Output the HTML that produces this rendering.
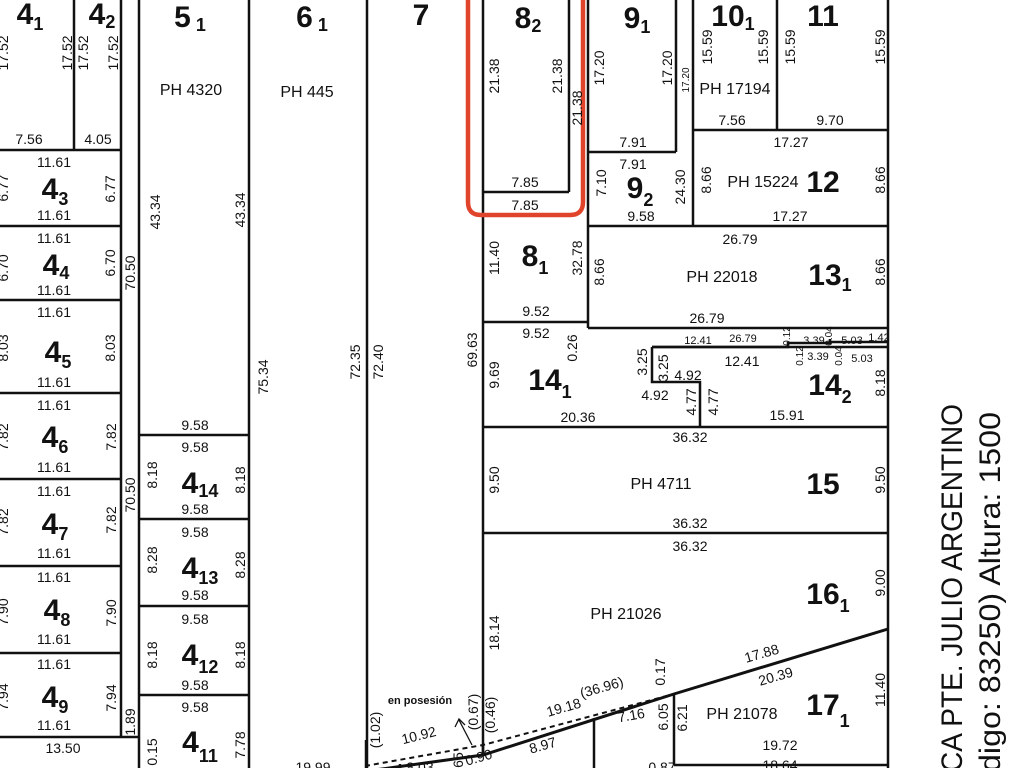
<!DOCTYPE html>
<html><head><meta charset="utf-8"><style>
html,body{margin:0;padding:0;background:#fff;width:1024px;height:768px;overflow:hidden}
svg{display:block}
text{font-family:"Liberation Sans Narrow","Liberation Sans",sans-serif;fill:#111;text-anchor:middle}
.d{font-size:14px}
.s{font-size:11px}
.t{font-size:10px}
.ph{font-size:16px}
.n{font-size:30px;font-weight:bold;font-family:"Liberation Sans",sans-serif}
.n tspan{font-size:18px}
.st{font-family:"Liberation Sans",sans-serif;font-size:30px;text-anchor:start}
</style></head><body>
<svg width="1024" height="768" viewBox="0 0 1024 768" xmlns="http://www.w3.org/2000/svg">
<g stroke="#111" stroke-width="2.5" fill="none">
<!-- left column -->
<line x1="74" y1="0" x2="74" y2="150"/>
<line x1="121" y1="0" x2="121" y2="737"/>
<line x1="0" y1="150" x2="121" y2="150"/>
<line x1="0" y1="226" x2="121" y2="226"/>
<line x1="0" y1="300" x2="121" y2="300"/>
<line x1="0" y1="393" x2="121" y2="393"/>
<line x1="0" y1="479" x2="121" y2="479"/>
<line x1="0" y1="566" x2="121" y2="566"/>
<line x1="0" y1="653" x2="121" y2="653"/>
<line x1="0" y1="737" x2="139" y2="737"/>
<line x1="139" y1="0" x2="139" y2="768"/>
<line x1="249" y1="0" x2="249" y2="768"/>
<line x1="139" y1="435" x2="249" y2="435"/>
<line x1="139" y1="519" x2="249" y2="519"/>
<line x1="139" y1="606" x2="249" y2="606"/>
<line x1="139" y1="695" x2="249" y2="695"/>
<line x1="367" y1="0" x2="367" y2="768"/>
<line x1="366" y1="740" x2="366" y2="768"/>
<!-- right block -->
<line x1="483" y1="0" x2="483" y2="755"/>
<line x1="569" y1="0" x2="569" y2="192"/>
<line x1="483" y1="192" x2="569" y2="192"/>
<line x1="588" y1="0" x2="588" y2="328"/>
<line x1="483" y1="322" x2="588" y2="322"/>
<line x1="676" y1="0" x2="676" y2="152"/>
<line x1="588" y1="152" x2="676" y2="152"/>
<line x1="693" y1="0" x2="693" y2="226"/>
<line x1="777" y1="0" x2="777" y2="130"/>
<line x1="693" y1="130" x2="888" y2="130"/>
<line x1="888" y1="0" x2="888" y2="768"/>
<line x1="588" y1="226" x2="888" y2="226"/>
<line x1="588" y1="328" x2="888" y2="328"/>
<polyline points="652,347 788,347 788,343 830,343 830,339"/>
<polyline points="830,342 888,342"/>
<line x1="652" y1="347" x2="888" y2="347"/>
<polyline points="652,347 652,382 700,382 700,427"/>
<line x1="483" y1="427" x2="888" y2="427"/>
<line x1="483" y1="533" x2="888" y2="533"/>
<!-- diagonal -->
<polyline points="888,629 674,694 483,755 360,772" stroke-width="3"/>
<line x1="483" y1="745" x2="483" y2="755"/>
<line x1="674" y1="694" x2="674" y2="765"/>
<line x1="674" y1="765" x2="888" y2="765"/>
<line x1="594" y1="718" x2="594" y2="768"/>
<line x1="400" y1="764" x2="400" y2="768"/>
</g>
<polyline points="365,766 483,745 674,694" fill="none" stroke="#111" stroke-width="2" stroke-dasharray="5,4"/>
<line x1="472" y1="745" x2="459" y2="720" stroke="#111" stroke-width="1.3"/>
<polyline points="455,727 459,719 465,725" fill="none" stroke="#111" stroke-width="1.3"/>
<!-- red highlight -->
<path d="M468,-10 V202 Q468,215 481,215 H570 Q583,215 583,202 V-10" fill="none" stroke="#e0452b" stroke-width="4.5"/>

<!-- lot numbers -->
<text class="n" x="30" y="24">4<tspan dy="6">1</tspan></text>
<text class="n" x="102" y="24">4<tspan dy="4">2</tspan></text>
<text class="n" x="190" y="27">5<tspan dy="4"> 1</tspan></text>
<text class="n" x="312" y="27">6<tspan dy="4"> 1</tspan></text>
<text class="n" x="421" y="25">7</text>
<text class="n" x="528" y="28">8<tspan dy="4">2</tspan></text>
<text class="n" x="637" y="28">9<tspan dy="5">1</tspan></text>
<text class="n" x="733" y="26">10<tspan dy="4">1</tspan></text>
<text class="n" x="823" y="26">11</text>
<text class="n" x="55" y="199">4<tspan dy="6">3</tspan></text>
<text class="n" x="56" y="275">4<tspan dy="4">4</tspan></text>
<text class="n" x="58" y="362">4<tspan dy="6">5</tspan></text>
<text class="n" x="55" y="447">4<tspan dy="6">6</tspan></text>
<text class="n" x="55" y="534">4<tspan dy="6">7</tspan></text>
<text class="n" x="57" y="620">4<tspan dy="6">8</tspan></text>
<text class="n" x="55" y="707">4<tspan dy="6">9</tspan></text>
<text class="n" x="200" y="493">4<tspan dy="4">14</tspan></text>
<text class="n" x="200" y="578">4<tspan dy="6">13</tspan></text>
<text class="n" x="200" y="665">4<tspan dy="8">12</tspan></text>
<text class="n" x="200" y="752">4<tspan dy="10">11</tspan></text>
<text class="n" x="535" y="266">8<tspan dy="8">1</tspan></text>
<text class="n" x="550" y="390">14<tspan dy="8">1</tspan></text>
<text class="n" x="640" y="198">9<tspan dy="8">2</tspan></text>
<text class="n" x="823" y="192">12</text>
<text class="n" x="830" y="285">13<tspan dy="6">1</tspan></text>
<text class="n" x="830" y="395">14<tspan dy="8">2</tspan></text>
<text class="n" x="823" y="494">15</text>
<text class="n" x="828" y="604">16<tspan dy="8">1</tspan></text>
<text class="n" x="828" y="715">17<tspan dy="12">1</tspan></text>

<!-- PH labels -->
<text class="ph" x="191" y="95">PH 4320</text>
<text class="ph" x="307" y="97">PH 445</text>
<text class="ph" x="735" y="94">PH 17194</text>
<text class="ph" x="763" y="187">PH 15224</text>
<text class="ph" x="722" y="282">PH 22018</text>
<text class="ph" x="661" y="489">PH 4711</text>
<text class="ph" x="626" y="619">PH 21026</text>
<text class="ph" x="742" y="719">PH 21078</text>

<!-- horizontal dims -->
<g class="d">
<text x="29" y="144">7.56</text><text x="98" y="144">4.05</text>
<text x="54" y="167">11.61</text><text x="54" y="220">11.61</text>
<text x="54" y="243">11.61</text><text x="54" y="295">11.61</text>
<text x="54" y="317">11.61</text><text x="54" y="387">11.61</text>
<text x="54" y="410">11.61</text><text x="54" y="472">11.61</text>
<text x="54" y="496">11.61</text><text x="54" y="558">11.61</text>
<text x="54" y="582">11.61</text><text x="54" y="644">11.61</text>
<text x="54" y="669">11.61</text><text x="54" y="730">11.61</text>
<text x="63" y="753">13.50</text>
<text x="195" y="430">9.58</text><text x="195" y="452">9.58</text><text x="195" y="514">9.58</text>
<text x="195" y="537">9.58</text><text x="195" y="600">9.58</text>
<text x="195" y="624">9.58</text><text x="195" y="690">9.58</text>
<text x="195" y="712">9.58</text>
<text x="525" y="187">7.85</text><text x="525" y="210">7.85</text>
<text x="536" y="316">9.52</text><text x="536" y="338">9.52</text>
<text x="578" y="422">20.36</text>
<text x="633" y="147">7.91</text><text x="633" y="169">7.91</text>
<text x="641" y="221">9.58</text>
<text x="732" y="125">7.56</text><text x="830" y="125">9.70</text>
<text x="791" y="147">17.27</text><text x="790" y="221">17.27</text>
<text x="740" y="244">26.79</text><text x="707" y="323">26.79</text>
<text x="688" y="380">4.92</text><text x="742" y="366">12.41</text>
<text x="655" y="400">4.92</text><text x="787" y="420">15.91</text>
<text x="690" y="442">36.32</text><text x="690" y="528">36.32</text>
<text x="690" y="551">36.32</text>
<text x="780" y="750">19.72</text><text x="780" y="770">18.64</text>
<text x="420" y="772">8.03</text><text x="662" y="772">0.87</text>
<text x="313" y="772">19.99</text>
</g>
<g class="s">
<text x="698" y="344">12.41</text><text x="743" y="342">26.79</text>
<text x="814" y="344">3.39</text><text x="852" y="344">5.03</text><text x="879" y="341">1.42</text>
<text x="818" y="360">3.39</text><text x="862" y="362">5.03</text>
</g>
<g class="t">
<text x="790" y="344" transform="rotate(-90 786 340)">0.12</text>
<text x="832" y="344" transform="rotate(-90 828 340)">0.04</text>
<text x="803" y="364" transform="rotate(-90 799 360)">0.12</text>
<text x="842" y="364" transform="rotate(-90 838 360)">0.04</text>
</g>
<text x="420" y="704" style="font-size:11px;font-weight:bold">en posesión</text>

<!-- rotated along diagonal -->
<g class="d">
<text x="763" y="658" transform="rotate(-16 763 658)">17.88</text>
<text x="777" y="681" transform="rotate(-16 777 681)">20.39</text>
<text x="603" y="692" transform="rotate(-16 603 692)">(36.96)</text>
<text x="565" y="712" transform="rotate(-16 565 712)">19.18</text>
<text x="632" y="720" transform="rotate(-10 632 720)">7.16</text>
<text x="544" y="750" transform="rotate(-16 544 750)">8.97</text>
<text x="420" y="740" transform="rotate(-14 420 740)">10.92</text>
<text x="480" y="762" transform="rotate(-16 480 762)">0.90</text>
</g>

<!-- vertical dims -->
<g class="d">
<text transform="translate(72,53) rotate(-90)">17.52</text>
<text transform="translate(88,53) rotate(-90)">17.52</text>
<text transform="translate(118,53) rotate(-90)">17.52</text>
<text transform="translate(8,53) rotate(-90)">17.52</text>
<text transform="translate(8,188) rotate(-90)">6.77</text>
<text transform="translate(8,268) rotate(-90)">6.70</text>
<text transform="translate(8,348) rotate(-90)">8.03</text>
<text transform="translate(8,437) rotate(-90)">7.82</text>
<text transform="translate(8,522) rotate(-90)">7.82</text>
<text transform="translate(8,612) rotate(-90)">7.90</text>
<text transform="translate(8,697) rotate(-90)">7.94</text>
<text transform="translate(115,189) rotate(-90)">6.77</text>
<text transform="translate(115,263) rotate(-90)">6.70</text>
<text transform="translate(115,348) rotate(-90)">8.03</text>
<text transform="translate(116,437) rotate(-90)">7.82</text>
<text transform="translate(116,520) rotate(-90)">7.82</text>
<text transform="translate(116,613) rotate(-90)">7.90</text>
<text transform="translate(116,698) rotate(-90)">7.94</text>
<text transform="translate(135,273) rotate(-90)">70.50</text>
<text transform="translate(135,495) rotate(-90)">70.50</text>
<text transform="translate(135,722) rotate(-90)">1.89</text>
<text transform="translate(160,212) rotate(-90)">43.34</text>
<text transform="translate(245,210) rotate(-90)">43.34</text>
<text transform="translate(268,377) rotate(-90)">75.34</text>
<text transform="translate(360,362) rotate(-90)">72.35</text>
<text transform="translate(383,362) rotate(-90)">72.40</text>
<text transform="translate(477,350) rotate(-90)">69.63</text>
<text transform="translate(157,475) rotate(-90)">8.18</text>
<text transform="translate(245,480) rotate(-90)">8.18</text>
<text transform="translate(157,560) rotate(-90)">8.28</text>
<text transform="translate(245,565) rotate(-90)">8.28</text>
<text transform="translate(157,655) rotate(-90)">8.18</text>
<text transform="translate(245,655) rotate(-90)">8.18</text>
<text transform="translate(157,752) rotate(-90)">0.15</text>
<text transform="translate(245,745) rotate(-90)">7.78</text>
<text transform="translate(499,76) rotate(-90)">21.38</text>
<text transform="translate(562,76) rotate(-90)">21.38</text>
<text transform="translate(582,108) rotate(-90)">21.38</text>
<text transform="translate(499,258) rotate(-90)">11.40</text>
<text transform="translate(582,258) rotate(-90)">32.78</text>
<text transform="translate(577,348) rotate(-90)">0.26</text>
<text transform="translate(499,375) rotate(-90)">9.69</text>
<text transform="translate(604,68) rotate(-90)">17.20</text>
<text transform="translate(672,68) rotate(-90)">17.20</text>
<text transform="translate(606,183) rotate(-90)">7.10</text>
<text transform="translate(685,187) rotate(-90)">24.30</text>
<text transform="translate(712,47) rotate(-90)">15.59</text>
<text transform="translate(768,47) rotate(-90)">15.59</text>
<text transform="translate(795,47) rotate(-90)">15.59</text>
<text transform="translate(885,47) rotate(-90)">15.59</text>
<text transform="translate(711,180) rotate(-90)">8.66</text>
<text transform="translate(885,180) rotate(-90)">8.66</text>
<text transform="translate(604,272) rotate(-90)">8.66</text>
<text transform="translate(885,272) rotate(-90)">8.66</text>
<text transform="translate(647,362) rotate(-90)">3.25</text>
<text transform="translate(668,368) rotate(-90)">3.25</text>
<text transform="translate(696,402) rotate(-90)">4.77</text>
<text transform="translate(718,402) rotate(-90)">4.77</text>
<text transform="translate(885,383) rotate(-90)">8.18</text>
<text transform="translate(499,480) rotate(-90)">9.50</text>
<text transform="translate(885,480) rotate(-90)">9.50</text>
<text transform="translate(885,583) rotate(-90)">9.00</text>
<text transform="translate(499,633) rotate(-90)">18.14</text>
<text transform="translate(665,672) rotate(-90)">0.17</text>
<text transform="translate(885,690) rotate(-90)">11.40</text>
<text transform="translate(687,718) rotate(-90)">6.21</text>
<text transform="translate(668,717) rotate(-90)">6.05</text>
<text transform="translate(380,730) rotate(-90)">(1.02)</text>
<text transform="translate(478,712) rotate(-90)">(0.67)</text>
<text transform="translate(495,715) rotate(-90)">(0.46)</text>
<text transform="translate(463,762) rotate(-90)">.65</text>
</g>
<g class="t"><text transform="translate(689,80) rotate(-90)">17.20</text></g>

<!-- street name -->
<text class="st" transform="translate(962,772) rotate(-90)" textLength="368" lengthAdjust="spacingAndGlyphs">CA PTE. JULIO ARGENTINO</text>
<text class="st" transform="translate(1000,772) rotate(-90)" textLength="360" lengthAdjust="spacingAndGlyphs">digo: 83250) Altura: 1500</text>
</svg>
</body></html>
